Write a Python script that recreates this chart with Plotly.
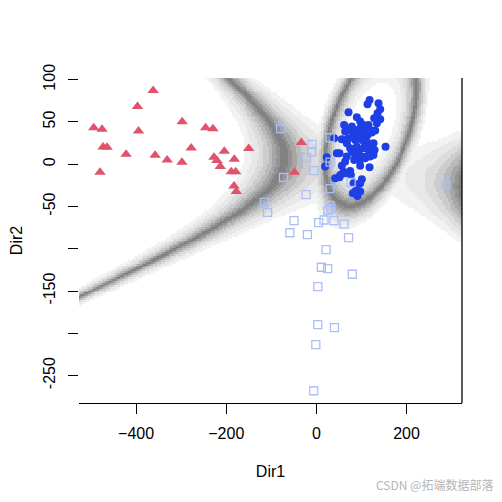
import numpy as np
import plotly.graph_objects as go

# ---- data ----
red_x = [-362.2, -396.9, -494.0, -475.6, -394.7, -297.8, -245.8, -229.6, -473.3, -464.4,
         -422.2, -357.8, -331.1, -298.4, -277.8, -204.4, -150.2, -227.3, -220.7, -182.2,
         -213.3, -480.0, -188.9, -179.1, -182.9, -177.8, -33.3, -48.9]
red_y = [87.1, 68.2, 43.0, 41.4, 39.4, 50.1, 43.0, 42.1, 20.5, 20.1,
         11.8, 10.7, 5.1, 2.4, 19.3, 15.4, 18.5, 8.3, 4.3, 5.9,
         -2.8, -9.5, -8.8, -8.8, -25.7, -32.4, 25.6, -9.5]

blue_x = [117.9, 113.4, 137.8, 141.5, 135.6, 71.2, 89.7, 128.2, 141.5, 134.1,
          61.5, 78.6, 97.1, 104.5, 115.6, 74.9, 86.0, 97.1, 108.2, 119.3,
          130.4, 63.8, 82.3, 93.4, 104.5, 113.4, 123.0, 39.3, 56.4, 71.2,
          86.0, 100.8, 111.9, 126.7, 123.0, 74.9, 89.7, 104.5, 115.6, 129.0,
          153.4, 45.3, 51.2, 78.6, 86.0, 100.8, 111.9, 126.7, 23.0, 67.5,
          83.8, 97.1, 108.2, 119.3, 19.3, 56.4, 97.1, 117.9, 74.9, 63.8,
          52.7, 41.6, 51.2, 100.8, 97.1, 82.3, 91.2, 80.8, 91.2, 86.0,
          97.1, 76.4, 60.1, 67.5, 108.2, 93.4, 63.8]
blue_y = [76.1, 70.9, 72.1, 65.0, 60.3, 61.5, 55.6, 54.4, 53.2, 48.5,
          46.5, 44.5, 50.4, 46.5, 46.5, 40.6, 40.6, 42.5, 40.6, 40.6,
          39.8, 38.6, 35.8, 34.6, 36.6, 34.6, 37.4, 30.7, 29.5, 30.7,
          28.7, 28.7, 26.7, 24.8, 20.0, 18.9, 20.8, 18.9, 16.9, 16.9,
          20.8, 12.9, 12.9, 14.9, 11.0, 9.0, 9.0, 11.0, 8.2, 9.0,
          5.1, 5.1, 7.0, 9.0, -2.8, -1.7, -1.7, -3.6, -7.9, -10.7,
          -12.7, -16.6, -15.4, -17.8, -22.6, -22.6, -30.4, -34.4, -37.5, -32.4,
          -32.4, -12.7, -8.8, 24.8, 22.8, 14.9, 3.1]

sq_x = [-79.6, -9.6, -10.7, -21.8, -73.1, -5.6, -115.8, -108.2, -23.1, -49.6,
        -58.9, -20.0, 4.9, 30.4, 30.4, 77.1, 30.4, 30.4, 25.5, 31.8,
        16.9, 39.1, 61.3, 71.3, 21.6, 287.6, 10.9, 24.9, 79.6, 3.1,
        3.1, 40.0, -1.3, -5.8]
sq_y = [42.0, 23.4, 14.6, 7.8, -15.7, -7.5, -45.2, -57.0, -36.0, -66.8,
        -81.1, -83.4, -69.1, 31.4, 2.4, -21.5, -28.9, -48.9, -54.6, -52.5,
        -66.0, -66.8, -70.8, -86.9, -101.0, -24.1, -121.9, -123.6, -130.2, -144.8,
        -189.8, -193.3, -213.5, -268.0]

x_ticks = [-400, -200, 0, 200]
y_ticks = [100, 50, 0, -50, -100, -150, -200, -250]
y_ticktext = ['100', '50', '0', '-50', '', '-150', '', '-250']

x_range = [-526.7, 323.0]
y_range = [-282.5, 102.0]

# ---- QDA background computed from the points ----
gx = np.linspace(x_range[0], x_range[1], 200)
gy = np.linspace(y_range[0], y_range[1], 170)
GX, GY = np.meshgrid(gx, gy)
groups = [(red_x, red_y), (blue_x, blue_y), (sq_x, sq_y)]
N = sum(len(g[0]) for g in groups)
logs = []
for xs, ys in groups:
    P = np.column_stack([xs, ys])
    m = P.mean(axis=0)
    S = np.cov(P.T)
    Si = np.linalg.inv(S)
    dx = GX - m[0]
    dy = GY - m[1]
    q = Si[0, 0] * dx * dx + 2 * Si[0, 1] * dx * dy + Si[1, 1] * dy * dy
    logs.append(-0.5 * np.log(np.linalg.det(S)) - 0.5 * q + np.log(len(xs) / N))
L = np.sort(np.stack(logs), axis=0)
d = L[-1] - L[-2]
bins = [0.25, 0.5, 0.8, 1.15, 1.55, 2.0, 2.6, 3.3]
lev = np.digitize(d, bins)
grays = ['#828282', '#939393', '#a6a6a6', '#bababa', '#cccccc', '#dcdcdc', '#e8e8e8', '#f2f2f2', '#ffffff']
K = len(grays)
cs = []
for i, c in enumerate(grays):
    cs.append([i / K, c])
    cs.append([(i + 1) / K, c])

fig = go.Figure()
fig.add_trace(go.Heatmap(x=gx, y=gy, z=lev, zmin=-0.5, zmax=K - 0.5, colorscale=cs,
                         showscale=False, zsmooth=False, hoverinfo='skip'))
fig.add_trace(go.Scatter(x=red_x, y=red_y, mode='markers',
                         marker=dict(symbol='triangle-up', size=10, color='#DF536B'),
                         showlegend=False))
fig.add_trace(go.Scatter(x=blue_x, y=blue_y, mode='markers',
                         marker=dict(symbol='circle', size=8, color='#1F3FE6'),
                         showlegend=False))
fig.add_trace(go.Scatter(x=sq_x, y=sq_y, mode='markers',
                         marker=dict(symbol='square-open', size=8, color='#A9BFF5',
                                     line=dict(width=1.3)),
                         showlegend=False))

font = dict(family='Liberation Sans, Arial, sans-serif', size=16, color='black')
fig.update_layout(
    width=502, height=502,
    margin=dict(l=71, r=48, t=70, b=107, autoexpand=False),
    paper_bgcolor='white', plot_bgcolor='white',
    font=font,
    xaxis=dict(range=x_range, tickvals=x_ticks, ticks='outside', ticklen=10,
               tickcolor='black', showgrid=False, zeroline=False, ticklabelstandoff=6,
               showline=True, linecolor='black', linewidth=1.3,
               title=dict(text='Dir1', font=font, standoff=24)),
    yaxis=dict(range=y_range, tickvals=y_ticks, ticktext=y_ticktext, ticks='outside',
               ticklen=10, tickcolor='black', tickangle=-90, showgrid=False,
               zeroline=False, showline=False, ticklabelstandoff=7,
               title=dict(text='Dir2', font=font, standoff=16)),
    shapes=[dict(type='line', xref='paper', yref='paper', x0=1, x1=1, y0=0, y1=1,
                 line=dict(color='black', width=1.3))],
    annotations=[dict(text='CSDN @拓端数据部落', xref='paper', yref='paper',
                      x=1.085, y=-0.252, xanchor='right', yanchor='middle', showarrow=False,
                      font=dict(family='Noto Sans CJK SC, sans-serif', size=12, color='#b5b5b5'))]
)
fig.write_html('out.html')
